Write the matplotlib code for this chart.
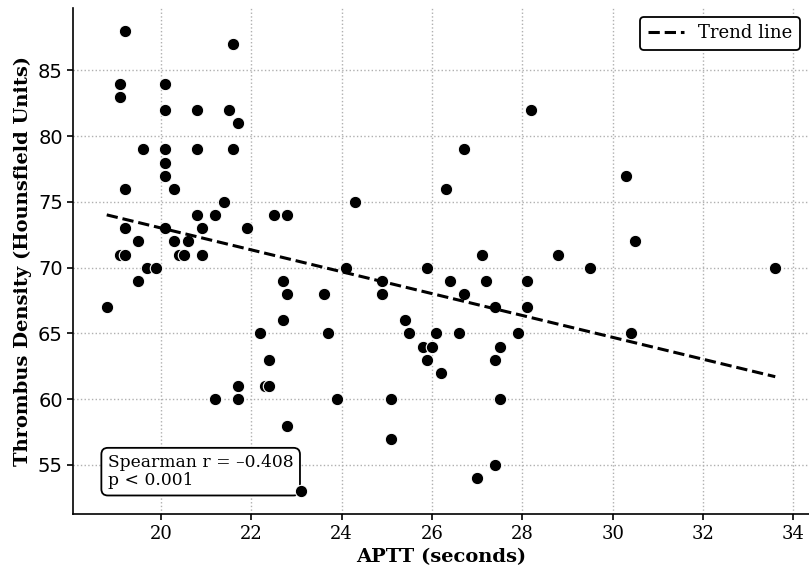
import matplotlib.pyplot as plt
import numpy as np

plt.rcParams['font.family'] = 'DejaVu Serif'

# APTT (s) vs thrombus density (HU)
aptt = [19.2, 21.6, 19.1, 19.1, 20.1, 20.1, 20.8, 21.5, 21.7, 19.6,
        20.1, 20.8, 21.6, 20.1, 20.1, 19.2, 20.3, 21.4, 20.8, 21.2,
        22.5, 22.8, 19.2, 20.1, 20.9, 21.9, 19.5, 20.3, 20.6, 19.1,
        19.2, 20.4, 20.5, 20.9, 19.7, 19.9, 19.5, 18.8, 22.7, 22.8,
        22.7, 22.2, 22.4, 22.3, 22.4, 21.7, 21.2, 21.7, 22.8, 23.1,
        26.7, 26.3, 24.3, 27.1, 28.8, 24.1, 25.9, 23.6, 24.9, 24.9,
        26.4, 27.2, 28.1, 26.7, 27.4, 28.1, 25.4, 23.7, 25.5, 26.1,
        26.6, 27.9, 25.8, 26.0, 27.5, 25.9, 27.4, 26.2, 23.9, 25.1,
        27.5, 25.1, 27.4, 27.0,
        28.2, 30.3, 30.5, 33.6, 29.5, 30.4]
density = [88, 87, 84, 83, 84, 82, 82, 82, 81, 79,
           79, 79, 79, 78, 77, 76, 76, 75, 74, 74,
           74, 74, 73, 73, 73, 73, 72, 72, 72, 71,
           71, 71, 71, 71, 70, 70, 69, 67, 69, 68,
           66, 65, 63, 61, 61, 61, 60, 60, 58, 53,
           79, 76, 75, 71, 71, 70, 70, 68, 69, 68,
           69, 69, 69, 68, 67, 67, 66, 65, 65, 65,
           65, 65, 64, 64, 64, 63, 63, 62, 60, 60,
           60, 57, 55, 54,
           82, 77, 72, 70, 70, 65]
spearman_r = -0.408
p_text = "p < 0.001"

x = np.array(aptt)
y = np.array(density)

fig = plt.figure(figsize=(8.09, 5.74), dpi=100)
ax = fig.add_axes([0.0906, 0.104, 0.909, 0.882])

ax.scatter(x, y, s=80, c='black', edgecolors='white', linewidths=0.8, zorder=3)

# linear trend
slope, intercept = np.polyfit(x, y, 1)
xs = np.array([x.min(), x.max()])
ax.plot(xs, slope * xs + intercept, '--', color='black', lw=2.2, label="Trend line", zorder=4)

ax.grid(True, linestyle=':', color='#b0b0b0', linewidth=1)
ax.set_axisbelow(True)
for side in ['top', 'right']:
    ax.spines[side].set_visible(False)
ax.spines['left'].set_linewidth(1.2)
ax.spines['bottom'].set_linewidth(1.2)

ax.set_yticks([55, 60, 65, 70, 75, 80, 85])
ax.set_xticks([20, 22, 24, 26, 28, 30, 32, 34])
ax.tick_params(width=1.2, length=4)
ax.tick_params(axis='x', labelsize=13)
ax.tick_params(axis='y', labelsize=14)
for lab in ax.get_yticklabels():
    lab.set_fontfamily('DejaVu Sans')

ax.set_xlabel("APTT (seconds)", fontsize=14, fontweight='bold')
ax.set_ylabel("Thrombus Density (Hounsfield Units)", fontsize=14, fontweight='bold')

ax.text(0.047, 0.05, f"Spearman r = {spearman_r:.3f}".replace("-", "\u2013") + f"\n{p_text}",
        transform=ax.transAxes, fontsize=12.3, va='bottom', ha='left', linespacing=1.05,
        zorder=2,
        bbox=dict(boxstyle='round,pad=0.38', facecolor='white', edgecolor='black', lw=1.3))

leg = ax.legend(loc='upper right', fontsize=13, fancybox=True, framealpha=1,
                edgecolor='black', borderpad=0.4, handlelength=2.0)
leg.get_frame().set_linewidth(1.3)

fig.savefig("out.png", dpi=100)
